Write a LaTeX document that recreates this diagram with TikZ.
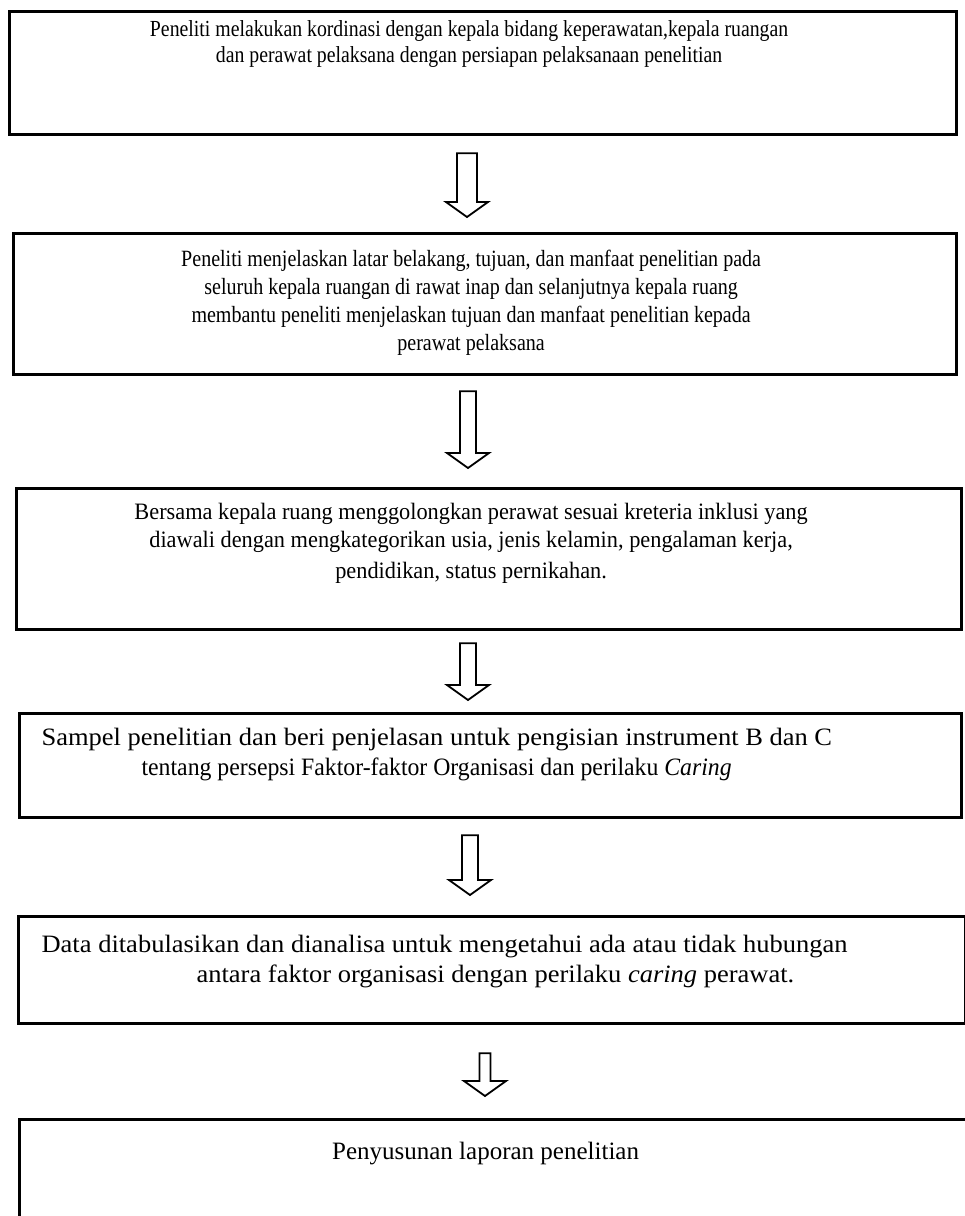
\documentclass[tikz,border=0pt]{standalone}
\usepackage{fontspec}
\setmainfont{Liberation Serif}
\newfontfamily\narrowserif{Liberation Serif}[FakeStretch=0.86]
\newfontfamily\midserif{Liberation Serif}[FakeStretch=0.95]
\newfontfamily\wideserif{Liberation Serif}[FakeStretch=1.06]
\usetikzlibrary{calc}

% box text: width, height, first baseline, right pad, text
\newcommand{\flowtext}[5]{%
  \parbox[c][#2][t]{#1}{\centering\rightskip=#4 plus 1fil
    \rule{0pt}{#3}#5}}

\begin{document}
\begin{tikzpicture}[x=1pt, y=-1pt,
		box/.style={draw, line width=3.2pt, inner sep=0pt, anchor=north west},
		narrowtext/.style={font=\narrowserif\fontsize{23}{26}\selectfont},
		midtext/.style={font=\midserif\fontsize{23.5}{28}\selectfont},
		widetext/.style={font=\wideserif\fontsize{25}{29.5}\selectfont},
		hollow/.style={draw, line width=1.8pt, fill=white, line join=miter}]
	
		\clip (0,0) rectangle (965,1216);
	
		\node[box, narrowtext] (b1) at (8,10) {\flowtext{947pt}{123pt}{25pt}{28pt}{%
			Peneliti melakukan kordinasi dengan kepala bidang keperawatan,kepala ruangan\\
			dan perawat pelaksana dengan persiapan pelaksanaan penelitian}};
	
		\node[box, font=\narrowserif\fontsize{23.3}{28}\selectfont] (b2) at (12,232) {\flowtext{943pt}{141pt}{33pt}{28pt}{%
			Peneliti menjelaskan latar belakang, tujuan, dan manfaat penelitian pada\\
			seluruh kepala ruangan di rawat inap dan selanjutnya kepala ruang\\
			membantu peneliti menjelaskan tujuan dan manfaat penelitian kepada\\
			perawat pelaksana}};
	
		\node[box, midtext] (b3) at (15,487) {\flowtext{945pt}{141pt}{31pt}{36pt}{%
			Bersama kepala ruang menggolongkan perawat sesuai kreteria inklusi yang\\
			diawali dengan mengkategorikan usia, jenis kelamin, pengalaman kerja,\\[3pt]
			pendidikan, status pernikahan.}};
	
		\node[box, widetext] (b4) at (18,712) {\flowtext{942pt}{104pt}{32pt}{0pt}{%
			\raggedright\hspace*{22pt}Sampel penelitian dan beri penjelasan untuk pengisian instrument B dan C\\
			\hspace*{122pt}{\midserif tentang persepsi Faktor-faktor Organisasi dan perilaku \textit{Caring}}}};
	
		\node[box, widetext] (b5) at (17,915) {\flowtext{947pt}{107pt}{36pt}{0pt}{%
			\raggedright\hspace*{23pt}Data ditabulasikan dan dianalisa untuk mengetahui ada atau tidak hubungan\\
			\hspace*{178pt}antara faktor organisasi dengan perilaku \textit{caring} perawat.}};
	
		\node[box, font=\fontsize{25}{29.5}\selectfont] (b6) at (18,1118) {\flowtext{980pt}{130pt}{40pt}{48pt}{%
			Penyusunan laporan penelitian}};
	
		% block arrows between the steps
		\foreach \src/\dst/\mx/\ga/\gb/\sw in {b1/b2/467/17/15/10, b2/b3/468/15/19/8,
			b3/b4/468/12/12/8, b4/b5/470/16/20/8, b5/b6/485/28/22/5.5}
		{
			\coordinate (mid) at (\mx,0);
			\coordinate (top) at ($ (\src.south -| mid) + (0,\ga) $);
			\coordinate (tip) at ($ (\dst.north -| mid) + (0,-\gb) $);
	
			\draw[hollow] ($ (top) + (-\sw,0) $) -- ($ (top) + (\sw,0) $)
				-- ($ (tip) + (\sw,-15) $) -- ($ (tip) + (21,-15) $) -- (tip)
				-- ($ (tip) + (-21,-15) $) -- ($ (tip) + (-\sw,-15) $) -- cycle;
		}
	\end{tikzpicture}
\end{document}
